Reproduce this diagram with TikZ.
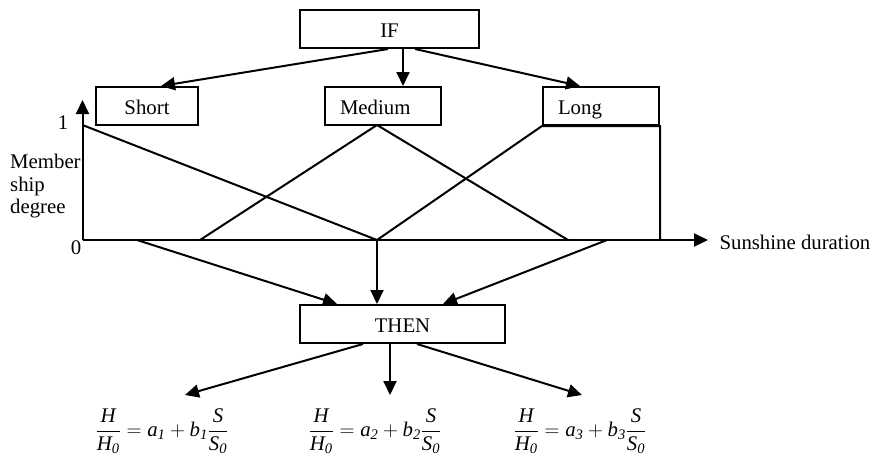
\documentclass[tikz,border=0pt]{standalone}
\usepackage{amsmath}
\usepackage{fontspec}
\setmainfont{Liberation Serif}
\usetikzlibrary{arrows.meta}
\begin{document}
\begin{tikzpicture}[x=1pt,y=-1pt,
  font=\fontsize{20.8}{22.5}\selectfont,
  ln/.style={line width=2pt},
  arr/.style={ln,-{Triangle[length=14pt,width=13pt]}},
  box/.style={draw,line width=2pt,inner sep=0pt,minimum height=38pt,text height=17pt,text depth=0pt},
  lbox/.style={box,text width=86pt,inner xsep=15pt,align=left},
  eq/.style={inner sep=0pt}
  ]
\useasboundingbox (0,0) rectangle (875,459);
% boxes
\node[box,minimum width=179pt] (if) at (389.5,29) {IF};
\node[box,minimum width=102pt] (short) at (147,106) {Short};
\node[lbox] (medium) at (383,106) {Medium};
\node[lbox] (long) at (601,106) {Long};
\node[box,minimum width=205pt] (then) at (402.5,324) {THEN};
% IF arrows
\draw[arr] ([xshift=-1.5pt]if.south) -- ([xshift=14pt]short.north);
\draw[arr] ([xshift=13.5pt]if.south) -- ([xshift=20pt]medium.north);
\draw[arr] ([xshift=25.5pt]if.south) -- ([xshift=-21pt]long.north);
% axes
\coordinate (o) at (82.5,240);
\coordinate (ytip) at (82.5,100);
\coordinate (xtip) at (708,240);
\draw[arr] (o) -- (ytip);
\draw[arr] (o) -- (xtip);
\node (one) at (63,123) {1};
\node (zero) at (76,248) {0};
\node[anchor=west] (sd) at (716,242) {Sunshine duration};
\node[anchor=north west,align=left,inner sep=0pt] (md) at (10,154) {Member\\ship\\degree};
% membership functions
\coordinate (s1) at (82.5,125);
\coordinate (mid) at (377,240);
\coordinate (m0) at (200,240);
\coordinate (mp) at (377,125);
\coordinate (m1) at (568,240);
\draw[ln] (s1) -- (mid);
\draw[ln] (m0) -- (mp) -- (m1);
\draw[ln] (mid) -- (long.south west) -- (long.south east) -- (long.south east |- mid);
% to THEN
\coordinate (a1) at (137,240);
\coordinate (a3) at (607,240);
\draw[arr] (a1) -- ([xshift=-65.5pt]then.north);
\draw[arr] (mid) -- ([xshift=-25.5pt]then.north);
\draw[arr] (a3) -- ([xshift=40.5pt]then.north);
% formulas
\node[eq] (f1) at (162,431) {$\displaystyle\frac{\textit{H}}{\textit{H}_{\textit{0}}}=\textit{a}_{\textit{1}}+\textit{b}_{\textit{1}}\frac{\textit{S}}{\textit{S}_{\textit{0}}}$};
\node[eq] (f2) at (375,431) {$\displaystyle\frac{\textit{H}}{\textit{H}_{\textit{0}}}=\textit{a}_{\textit{2}}+\textit{b}_{\textit{2}}\frac{\textit{S}}{\textit{S}_{\textit{0}}}$};
\node[eq] (f3) at (580,431) {$\displaystyle\frac{\textit{H}}{\textit{H}_{\textit{0}}}=\textit{a}_{\textit{3}}+\textit{b}_{\textit{3}}\frac{\textit{S}}{\textit{S}_{\textit{0}}}$};
\coordinate (t1) at (185,395);
\coordinate (t2) at (390,395);
\coordinate (t3) at (582,395);
\draw[arr] ([xshift=-39.5pt]then.south) -- (t1);
\draw[arr] ([xshift=-12.5pt]then.south) -- (t2);
\draw[arr] ([xshift=14.5pt]then.south) -- (t3);
\end{tikzpicture}
\end{document}
